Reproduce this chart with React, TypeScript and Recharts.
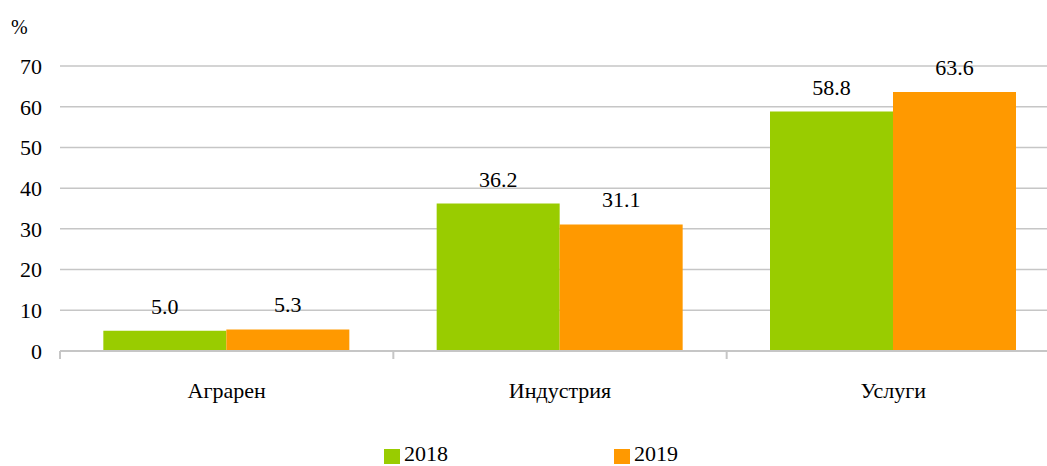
import React from "react";
import {
  BarChart,
  Bar,
  XAxis,
  YAxis,
  CartesianGrid,
  Legend,
  LabelList,
} from "recharts";

const categories = ["Аграрен", "Индустрия", "Услуги"];
const values2018 = [5.0, 36.2, 58.8];
const values2019 = [5.3, 31.1, 63.6];
const yTicks = [0, 10, 20, 30, 40, 50, 60, 70];

const GREEN = "#99CC00";
const ORANGE = "#FF9900";
const FONT = "Liberation Serif, Tinos, DejaVu Serif, serif";
const FS = 22;

const data = categories.map((name, i) => ({
  name,
  y2018: values2018[i],
  y2019: values2019[i],
}));

const CategoryTick = (props: any) => {
  const { x, y, payload, index } = props;
  const half = payload.offset || 166.7;
  const axisY = y - 8;
  return (
    <g>
      <line x1={x - half} x2={x - half} y1={axisY} y2={axisY + 8} stroke="#c6c6c6" strokeWidth={2} />
      {index === categories.length - 1 && (
        <line x1={x + half} x2={x + half} y1={axisY} y2={axisY + 8} stroke="#c6c6c6" strokeWidth={2} />
      )}
      <text x={x} y={axisY + 47} textAnchor="middle" fontSize={FS} style={{ fontFamily: FONT }} fill="#000">
        {payload.value}
      </text>
    </g>
  );
};

const LegendContent = () => (
  <div style={{ position: "relative", height: 24, fontFamily: FONT, fontSize: FS, color: "#000" }}>
    <div style={{ position: "absolute", left: 384, top: 9, width: 16, height: 15, background: GREEN }} />
    <span style={{ position: "absolute", left: 404, top: 2, lineHeight: "24px" }}>2018</span>
    <div style={{ position: "absolute", left: 614, top: 9, width: 16, height: 15, background: ORANGE }} />
    <span style={{ position: "absolute", left: 634, top: 2, lineHeight: "24px" }}>2019</span>
  </div>
);

export default function App() {
  return (
    <div
      style={{
        position: "absolute",
        left: 0,
        top: 0,
        width: 1047,
        height: 466,
        overflow: "hidden",
        background: "#fff",
      }}
    >
      <div
        style={{
          position: "absolute",
          left: 11,
          top: 16,
          fontFamily: FONT,
          fontSize: 20,
          lineHeight: "22px",
          color: "#000",
        }}
      >
        %
      </div>
      <BarChart
        width={1060}
        height={466}
        data={data}
        margin={{ top: 66, right: 0, left: 0, bottom: 0 }}
        barCategoryGap="13%"
        barGap={0}
      >
        <CartesianGrid vertical={false} stroke="#c6c6c6" strokeWidth={1.5} />
        <XAxis
          dataKey="name"
          tickLine={false}
          axisLine={{ stroke: "#c6c6c6", strokeWidth: 2 }}
          tick={<CategoryTick />}
          tickSize={6}
          tickMargin={2}
          height={91}
          interval={0}
        />
        <YAxis
          domain={[0, 70]}
          ticks={yTicks}
          width={60}
          tickLine={false}
          axisLine={false}
          tickMargin={12}
          tick={{ fontSize: FS, style: { fontFamily: FONT }, fill: "#000" }}
        />
        <Legend
          verticalAlign="bottom"
          content={<LegendContent />}
          wrapperStyle={{ left: 0, width: 1047, bottom: 2 }}
        />
        <Bar dataKey="y2018" name="2018" fill={GREEN} isAnimationActive={false}>
          <LabelList
            dataKey="y2018"
            position="top"
            offset={17}
            formatter={(v: any) => Number(v).toFixed(1)}
            style={{ fontSize: FS, fontFamily: FONT, fill: "#000" }}
          />
        </Bar>
        <Bar dataKey="y2019" name="2019" fill={ORANGE} isAnimationActive={false}>
          <LabelList
            dataKey="y2019"
            position="top"
            offset={17}
            formatter={(v: any) => Number(v).toFixed(1)}
            style={{ fontSize: FS, fontFamily: FONT, fill: "#000" }}
          />
        </Bar>
      </BarChart>
    </div>
  );
}
